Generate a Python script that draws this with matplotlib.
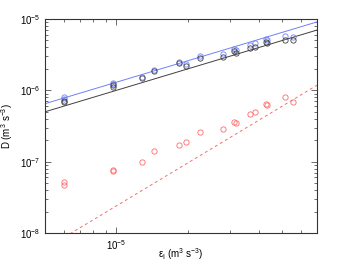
import matplotlib
matplotlib.use("Agg")
import matplotlib.pyplot as plt
from matplotlib.ticker import LogLocator, NullFormatter

plt.rcParams['font.family'] = ['Liberation Sans', 'DejaVu Sans']
plt.rcParams['mathtext.default'] = 'regular'

# Data
eps = [6.0e-6, 6.0e-6, 9.7e-6, 9.7e-6, 1.28e-5, 1.44e-5, 1.84e-5, 1.96e-5, 2.25e-5,
       2.80e-5, 3.12e-5, 3.18e-5, 3.64e-5, 3.82e-5, 4.28e-5, 4.33e-5, 5.14e-5, 5.55e-5]
D_blue = [8.1e-7, 7.6e-7, 1.26e-6, 1.23e-6, 1.54e-6, 1.93e-6, 2.52e-6, 2.34e-6, 3.06e-6,
          3.20e-6, 3.76e-6, 3.62e-6, 4.32e-6, 4.56e-6, 5.24e-6, 5.08e-6, 5.78e-6, 5.65e-6]
D_black = [7.2e-7, 6.9e-7, 1.10e-6, 1.18e-6, 1.49e-6, 1.87e-6, 2.45e-6, 2.22e-6, 2.87e-6,
           2.93e-6, 3.56e-6, 3.37e-6, 3.88e-6, 4.09e-6, 4.71e-6, 4.56e-6, 5.08e-6, 5.03e-6]
D_red = [5.2e-8, 4.7e-8, 7.4e-8, 7.6e-8, 9.9e-8, 1.41e-7, 1.71e-7, 1.88e-7, 2.60e-7,
         2.86e-7, 3.59e-7, 3.48e-7, 4.65e-7, 4.97e-7, 6.43e-7, 6.22e-7, 8.05e-7, 6.86e-7]

line_eps = [5.0e-6, 7.0e-5]
line_blue = [6.5e-7, 9.1e-6]
line_black = [5.0e-7, 7.0e-6]
line_red = [6.0e-9, 1.18e-6]

fig = plt.figure(figsize=(3.5, 2.65), dpi=100)
ax = fig.add_axes([45/350, 1-233/265, (317-45)/350, (233-19)/265])

blue = '#7080fb'
red = '#ff6a6a'
grey = '#404040'

ax.plot(line_eps, line_blue, color=blue, lw=0.7)
ax.plot(line_eps, line_black, color=grey, lw=0.7)
ax.plot(line_eps, line_red, color=red, lw=0.7, ls=(0, (3, 3)))

ms = 3.8
ax.plot(eps, D_blue, 'o', mfc='none', mec=blue, ms=ms, mew=0.6)
ax.plot(eps, D_black, 'o', mfc='none', mec=grey, ms=ms, mew=0.6)
ax.plot(eps, D_red, 'o', mfc='none', mec=red, ms=ms, mew=0.6)

ax.set_xscale('log')
ax.set_yscale('log')
ax.set_xlim(5.0e-6, 7.0e-5)
ax.set_ylim(1e-8, 1e-5)

for a in (ax.xaxis, ax.yaxis):
    a.set_major_locator(LogLocator(base=10, numticks=10))
    a.set_minor_locator(LogLocator(base=10, subs=range(2, 10), numticks=20))
    a.set_minor_formatter(NullFormatter())

ax.tick_params(which='both', direction='in', top=True, right=True, labelsize=7, width=0.5, color='#333333')
ax.tick_params(which='major', length=4)
ax.tick_params(which='minor', length=2)
for s in ax.spines.values():
    s.set_linewidth(0.8)
    s.set_color('#333333')

ax.set_xlabel('ε$_{\\mathrm{l}}$ (m$^3$ s$^{-3}$)', fontsize=7)
ax.set_ylabel('D (m$^3$ s$^{-3}$)', fontsize=7)
ax.xaxis.set_label_coords(0.5, -0.06)
ax.yaxis.set_label_coords(-0.11, 0.5)

fig.savefig('out.png', dpi=100)
